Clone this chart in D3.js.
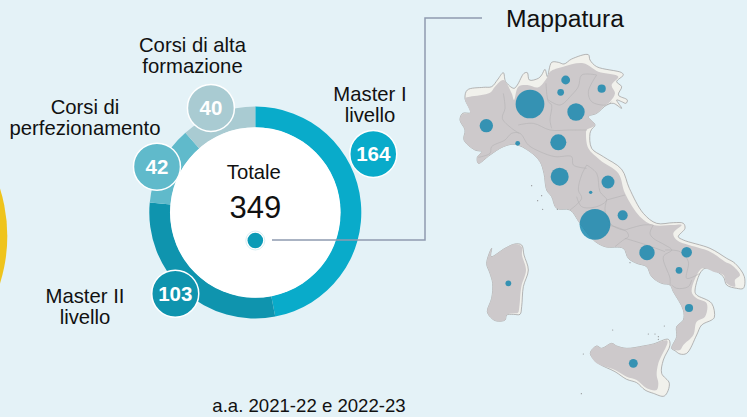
<!DOCTYPE html>
<html lang="en">
<head>
<meta charset="UTF-8">
<title>Mappatura</title>
<script src="https://d3js.org/d3.v7.min.js"></script>
<style>
    html, body {margin: 0; padding: 0; background: #e4f2f7; overflow: hidden;}
    svg {display: block;}
    text {font-family: "Liberation Sans", Arial, sans-serif; fill: #111;}
</style>
</head>
<body>
<script>
    const width = 747;
    const height = 417;

    // ring
    const categories = ["Master I livello", "Master II livello", "Corsi di perfezionamento", "Corsi di alta formazione"];
    const values = [164, 103, 42, 40];
    const colors = ["#09abca", "#0f94ae", "#60bacb", "#a9cbd2"];
    const labelLines = [["Master I", "livello"], ["Master II", "livello"], ["Corsi di", "perfezionamento"], ["Corsi di alta", "formazione"]];
    const labelCenters = [[370, 94], [85, 296], [85, 107], [192.5, 45]];
    const badgeAngles = [63.6, 224.6, 295, 337];
    const badgeDistances = [131.7, 114, 108.5, 113.6];
    const total = d3.sum(values);

    // bubbles, map units (3x the picture, origin at 440,50)
    const regions = ["Lombardia", "Piemonte", "Veneto", "Trentino", "Alto Adige", "Friuli", "Liguria", "Emilia-Romagna", "Toscana", "Marche", "Umbria", "Abruzzo", "Lazio", "Campania", "Puglia", "Basilicata", "Calabria", "Sicilia", "Sardegna"];
    const regionValues = [74, 16, 27, 7, 4, 6, 2, 23, 29, 15, 1, 9, 85, 21, 10, 4, 6, 7, 3];
    const regionCenters = [[270,162],[139,227],[408,186],[377,90],[362,127],[485,116],[233,280],[355,277],[359,380],[504,396],[452,427],[548,496],[465,523],[621,608],[740,607],[717,661],[747,774],[580,940],[205,700]];

    // map outlines, same units
    const westCoast = [[695,895],[710,860],[710,830],[730,810],[730,780],[700,725],[690,705],[665,700],[635,680],[620,650],[590,640],[565,625],[550,595],[495,590],[460,570],[420,520],[390,480],[350,475],[335,440],[320,420],[312,370],[300,335],[270,305],[225,283],[190,290],[150,315],[115,340],[112,322],[125,305],[105,300],[72,270],[75,240]];
    const mainlandOuter = [[60,210],[68,190],[92,188],[75,145],[82,120],[130,112],[155,110],[172,90],[190,68],[197,95],[222,115],[232,105],[252,70],[262,68],[268,90],[295,85],[305,75],[315,58],[322,80],[335,37],[355,37],[372,42],[395,27],[445,14],[450,30],[470,50],[545,68],[550,75],[530,95],[545,110],[535,135],[562,150],[558,160],[545,155],[530,150],[545,175],[520,160],[500,165],[470,190],[445,200],[465,225],[455,238],[450,250],[455,295],[490,320],[545,358],[568,415],[610,490],[650,520],[700,518],[730,520],[735,535],[715,560],[730,570],[810,595],[860,625],[885,640],[913,680],[910,715],[890,715],[860,705],[850,680],[820,660],[795,655],[780,670],[765,725],[770,735],[815,760],[823,802],[815,810],[785,825],[770,855],[740,910],[720,912],[705,902]].concat(westCoast);
    const mainlandGray = [[60,210],[68,192],[90,190],[75,145],[90,140],[150,128],[165,110],[190,90],[215,130],[222,150],[235,110],[262,105],[295,112],[320,85],[330,65],[370,50],[430,40],[475,65],[535,80],[515,105],[525,130],[510,155],[490,170],[470,190],[445,200],[465,225],[440,240],[438,250],[445,295],[480,330],[535,370],[555,430],[600,500],[640,525],[700,525],[725,525],[700,550],[710,570],[810,605],[855,635],[875,645],[900,675],[885,690],[885,710],[860,700],[850,675],[820,665],[792,655],[780,660],[755,725],[770,745],[800,760],[795,800],[770,815],[760,855],[730,885],[720,900],[705,900]].concat(westCoast);
    const sardiniaOuter = [[140,640],[155,595],[153,620],[195,595],[225,582],[245,585],[252,615],[265,660],[250,710],[245,770],[240,793],[220,793],[200,795],[195,810],[170,813],[155,805],[142,785],[155,745],[158,700],[150,670]];
    const sardiniaGray = [[140,640],[155,595],[153,620],[195,595],[225,582],[245,590],[246,615],[258,660],[244,710],[238,770],[234,788],[220,790],[200,795],[195,810],[170,813],[155,805],[142,785],[155,745],[158,700],[150,670]];
    const sicilyOuter = [[452,905],[470,888],[485,895],[515,880],[530,888],[560,895],[610,888],[640,882],[685,868],[690,885],[670,930],[665,970],[688,1000],[673,1038],[640,1030],[615,1020],[590,998],[560,988],[525,965],[475,940],[452,915]];
    const sicilyGray = [[452,905],[470,888],[485,895],[515,880],[530,888],[560,895],[610,888],[640,882],[682,872],[655,940],[650,975],[655,1000],[650,1020],[620,1015],[590,990],[560,980],[525,960],[470,940],[452,915]];
    const borders = [
        [[190,130],[195,175],[187,205],[215,235],[238,250]],
        [[235,225],[280,220],[330,240],[390,240],[440,240]],
        [[115,322],[150,310],[155,290],[195,270],[215,250],[240,250],[265,285],[300,305],[345,320],[395,320],[400,345],[440,355]],
        [[318,100],[325,155],[335,165],[330,210],[335,235]],
        [[325,150],[360,165],[395,135],[415,110],[425,75],[470,75]],
        [[470,75],[445,125],[455,155],[500,165],[515,155]],
        [[440,345],[425,375],[415,420],[425,445],[390,480]],
        [[440,345],[470,370],[480,425],[500,450],[470,470],[425,470],[410,440]],
        [[500,450],[555,435]],
        [[500,450],[495,480],[510,520],[550,540],[570,535],[610,525],[640,525]],
        [[505,525],[560,545],[565,560],[550,570],[525,590]],
        [[640,525],[630,550],[640,565],[675,585],[695,600],[670,620],[690,685],[690,705]],
        [[555,565],[620,585],[675,605]],
        [[675,600],[720,605],[745,635],[740,685],[780,670]],
        [[695,705],[710,715],[745,710],[755,690]]
    ];
    const islets = [[275,407],[305,437],[293,452],[308,478],[352,478],[570,638],[518,840],[673,828],[625,852],[645,852],[655,860],[655,868],[430,912],[424,1031]];

    const svg = d3.select("body").append("svg")
            .attr("width", width).attr("height", height);

    // yellow circle cut by the left edge
    svg.append("circle")
            .attr("cx", -150.7).attr("cy", 236).attr("r", 158)
            .style("fill", "#efc41c");

    const ringCenter = [255.3, 212.5];
    const ring = svg.append("g").attr("transform", `translate(${ringCenter})`);
    const pie = d3.pie().sort(null)(values);
    const arc = d3.arc().innerRadius(85).outerRadius(106);

    ring.selectAll("path")
            .data(pie)
            .enter()
            .append("path")
            .attr("d", arc)
            .style("fill", (d, i) => colors[i]);
    ring.append("circle").attr("r", 85.3).style("fill", "white");

    // connector
    svg.append("path")
            .attr("d", d3.line()([[272, 240], [425, 240], [425, 18], [482, 18]]))
            .style("fill", "none")
            .style("stroke", "#8f9bb0")
            .style("stroke-width", 1.5);

    ring.append("circle").attr("cy", 28).attr("r", 9.5)
            .style("fill", "white")
            .style("stroke", "#cfe8ef").style("stroke-width", .8);
    ring.append("circle").attr("cy", 28).attr("r", 7.8)
            .style("fill", "#0a9ab6");

    const polar = (deg, dist) => [dist * Math.sin(deg * Math.PI / 180), -dist * Math.cos(deg * Math.PI / 180)];

    const badge = ring.selectAll("g.badge")
            .data(values)
            .enter()
            .append("g")
            .attr("class", "badge")
            .attr("transform", (d, i) => `translate(${polar(badgeAngles[i], badgeDistances[i])})`);
    badge.append("circle")
            .attr("r", 23.5)
            .style("fill", (d, i) => colors[i])
            .style("stroke", "white").style("stroke-width", 1.5);
    badge.append("text")
            .text(d => d)
            .attr("text-anchor", "middle")
            .attr("dy", "0.36em")
            .style("fill", "white")
            .style("font-weight", "bold")
            .style("font-size", "20.5px");

    ring.append("text").text("Totale")
            .attr("text-anchor", "middle").attr("x", -1.5).attr("y", -34)
            .style("font-size", "20.3px");
    ring.append("text").text(total)
            .attr("text-anchor", "middle").attr("y", 5)
            .style("font-size", "31px");

    const label = svg.selectAll("text.label")
            .data(labelLines)
            .enter()
            .append("text")
            .attr("class", "label")
            .attr("text-anchor", "middle")
            .style("font-size", "20.3px");
    label.selectAll("tspan")
            .data((d, i) => d.map((line, k) => ({line, k, c: labelCenters[i]})))
            .enter()
            .append("tspan")
            .attr("x", d => d.c[0])
            .attr("y", d => d.c[1] + 7 + d.k * 21)
            .text(d => d.line);

    svg.append("text").text("Mappatura")
            .attr("x", 506).attr("y", 27)
            .style("font-size", "24.7px");
    svg.append("text").text("a.a. 2021-22 e 2022-23")
            .attr("x", 309).attr("y", 412)
            .attr("text-anchor", "middle")
            .style("font-size", "18.6px");

    // map
    const mx = d3.scaleLinear().domain([0, 921]).range([440, 747]);
    const my = d3.scaleLinear().domain([0, 1101]).range([50, 417]);
    const closed = d3.line().x(d => mx(d[0])).y(d => my(d[1])).curve(d3.curveCatmullRomClosed.alpha(.5));
    const open = d3.line().x(d => mx(d[0])).y(d => my(d[1])).curve(d3.curveCatmullRom.alpha(.5));
    const size = d3.scaleSqrt().domain([0, d3.max(regionValues)]).range([0, 15.4]);

    const map = svg.append("g");

    map.selectAll("path.land")
            .data([mainlandOuter, sardiniaOuter, sicilyOuter])
            .enter()
            .append("path")
            .attr("class", "land")
            .attr("d", closed)
            .style("fill", "#f1f1ec")
            .style("stroke", "#9b999a")
            .style("stroke-width", .7);

    map.selectAll("path.gray")
            .data([mainlandGray, sardiniaGray, sicilyGray])
            .enter()
            .append("path")
            .attr("class", "gray")
            .attr("d", closed)
            .style("fill", "#cdc9cb");

    map.selectAll("path.border")
            .data(borders)
            .enter()
            .append("path")
            .attr("class", "border")
            .attr("d", open)
            .style("fill", "none")
            .style("stroke", "#b4b1b3")
            .style("stroke-width", .6);

    map.selectAll("circle.islet")
            .data(islets)
            .enter()
            .append("circle")
            .attr("class", "islet")
            .attr("cx", d => mx(d[0]))
            .attr("cy", d => my(d[1]))
            .attr("r", .6)
            .style("fill", "#8d8e90");

    map.selectAll("circle.region")
            .data(regionValues)
            .enter()
            .append("circle")
            .attr("class", "region")
            .attr("cx", (d, i) => mx(regionCenters[i][0]))
            .attr("cy", (d, i) => my(regionCenters[i][1]))
            .attr("r", d => size(d))
            .style("fill", "#0f85ac")
            .style("fill-opacity", .8);
</script>
</body>
</html>
